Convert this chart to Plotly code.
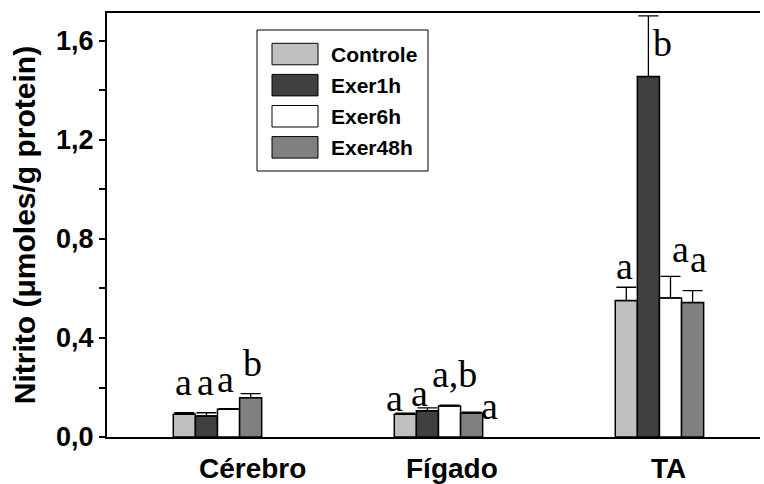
import plotly.graph_objects as go

# ---- data -------------------------------------------------------------
categories = ["Cérebro", "Fígado", "TA"]
series_names = ["Controle", "Exer1h", "Exer6h", "Exer48h"]

controle_mean = [0.092, 0.092, 0.551]
exer1h_mean = [0.085, 0.106, 1.456]
exer6h_mean = [0.112, 0.125, 0.562]
exer48h_mean = [0.159, 0.096, 0.543]

controle_err = [0.006, 0.004, 0.054]
exer1h_err = [0.013, 0.012, 0.245]
exer6h_err = [0.003, 0.004, 0.087]
exer48h_err = [0.016, 0.004, 0.048]

controle_sig = ["a", "a", "a"]
exer1h_sig = ["a", "a", "b"]
exer6h_sig = ["a", "a,b", "a"]
exer48h_sig = ["b", "a", "a"]

y_tick_values = [0.0, 0.2, 0.4, 0.6, 0.8, 1.0, 1.2, 1.4, 1.6]
y_tick_text = ["0,0", "", "0,4", "", "0,8", "", "1,2", "", "1,6"]

# ---- styling ----------------------------------------------------------
W, H = 764, 484
ML, MR, MT, MB = 107, 4, 13, 47
PW, PH = W - ML - MR, H - MT - MB
colors = ["#c0c0c0", "#404040", "#ffffff", "#808080"]
SANS = "Liberation Sans, Arial, sans-serif"
SERIF = "Liberation Serif, Times New Roman, serif"
LETTER_SIZE = 38
BAR_WIDTH = 0.1  # (1 - bargap) / number of series

# letter placement: (horizontal shift px, baseline height above error cap px)
letter_offsets = [
    [(-0.5, 17), (-10.5, 1.6), (-2, 7.3)],
    [(-0.5, 16.7), (-7.5, 0.7), (14, -40.7)],
    [(-3, 16), (5, 17), (10, 13.3)],
    [(2, 16.7), (17.5, -7.7), (6, 17.7)],
]
category_label_shift = [35, 14, 9]


def px_x(p):
    return (p - ML) / PW


def px_y(p):
    return (H - MB - p) / PH


means = [controle_mean, exer1h_mean, exer6h_mean, exer48h_mean]
errs = [controle_err, exer1h_err, exer6h_err, exer48h_err]
sigs = [controle_sig, exer1h_sig, exer6h_sig, exer48h_sig]
xs = list(range(len(categories)))

fig = go.Figure()
for k, name in enumerate(series_names):
    fig.add_trace(go.Bar(
        x=xs, y=means[k], name=name, showlegend=False,
        marker=dict(color=colors[k], line=dict(color="black", width=1.5)),
        error_y=dict(type="data", array=errs[k], arrayminus=[0] * len(xs),
                     symmetric=False, color="black", thickness=1.3, width=10),
    ))

annotations = []
descent = 0.216 * LETTER_SIZE + 1
for k in range(len(series_names)):
    for i in xs:
        dx, gap = letter_offsets[k][i]
        annotations.append(dict(
            x=i + (k - 1.5) * BAR_WIDTH, y=means[k][i] + errs[k][i],
            xref="x", yref="y", text=sigs[k][i], showarrow=False,
            xanchor="center", yanchor="bottom", xshift=dx, yshift=gap - descent,
            font=dict(family=SERIF, size=LETTER_SIZE, color="black"),
        ))

# category labels under the groups
for i, cat in enumerate(categories):
    annotations.append(dict(
        x=i, y=px_y(468), xref="x", yref="paper", text=cat, showarrow=False,
        xanchor="center", yanchor="middle", xshift=category_label_shift[i],
        font=dict(family=SANS, size=28, color="black", weight="bold"),
    ))

# legend: framed box with large swatches
shapes = [dict(type="rect", xref="paper", yref="paper",
               x0=px_x(257), x1=px_x(428), y0=px_y(171), y1=px_y(30),
               line=dict(color="black", width=1), fillcolor="white", layer="above")]
for k, name in enumerate(series_names):
    top = 43.3 + k * 31.1
    shapes.append(dict(type="rect", xref="paper", yref="paper",
                       x0=px_x(272), x1=px_x(318), y0=px_y(top + 21.5), y1=px_y(top),
                       line=dict(color="black", width=1), fillcolor=colors[k], layer="above"))
    annotations.append(dict(
        x=px_x(329), y=px_y(top + 10.8), xref="paper", yref="paper", text=name,
        showarrow=False, xanchor="left", yanchor="middle",
        font=dict(family=SANS, size=21, color="black", weight="bold"),
    ))

fig.update_layout(
    width=W, height=H,
    margin=dict(l=ML, r=MR, t=MT, b=MB, autoexpand=False),
    paper_bgcolor="white", plot_bgcolor="white",
    barmode="group", bargap=0.6, bargroupgap=0,
    annotations=annotations, shapes=shapes, showlegend=False,
    xaxis=dict(range=[-0.5, 2.455], showticklabels=False, ticks="",
               showline=True, linecolor="black", linewidth=2, mirror=True,
               showgrid=False, zeroline=False),
    yaxis=dict(range=[0, 1.713], tickvals=y_tick_values, ticktext=y_tick_text,
               ticks="outside", ticklen=6, tickwidth=1.5, tickcolor="black",
               tickfont=dict(family=SANS, size=27, color="black", weight="bold"),
               showline=True, linecolor="black", linewidth=2,
               showgrid=False, zeroline=False,
               title=dict(text="Nitrito (\u03bcmoles/g protein)", standoff=12,
                          font=dict(family=SANS, size=30, color="black", weight="bold"))),
)

fig.write_html("out.html")
